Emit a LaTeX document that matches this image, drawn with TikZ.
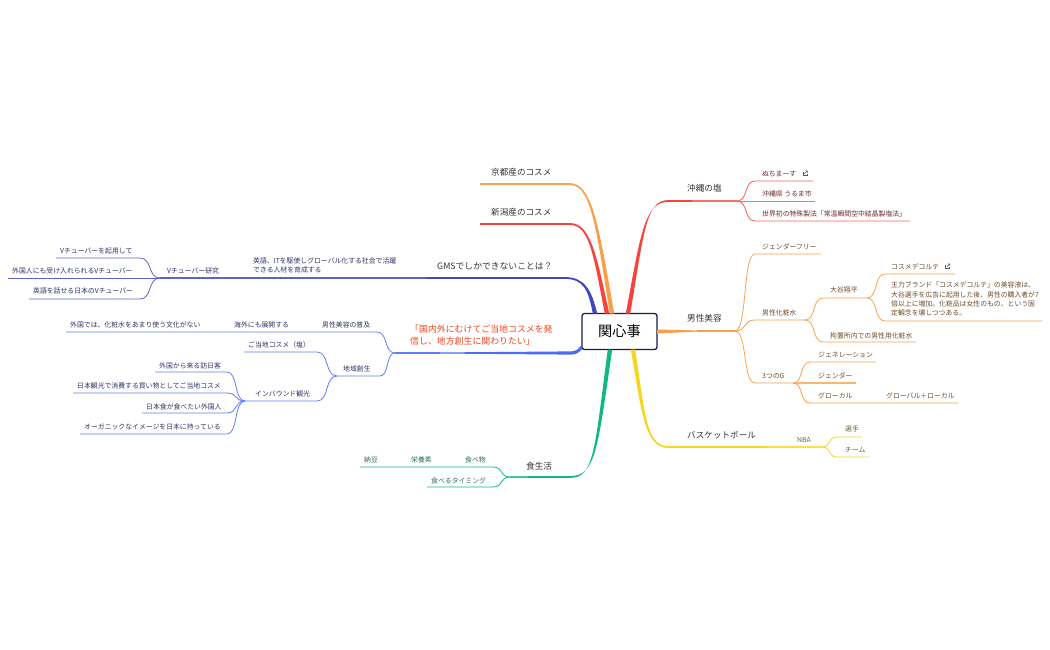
\documentclass[tikz,border=0pt]{standalone}
\usepackage{fontspec}
\setmainfont{Noto Sans CJK JP}
\usetikzlibrary{calc}

\definecolor{orangeM}{HTML}{F9A04A}
\definecolor{redM}{HTML}{F8433C}
\definecolor{navyM}{HTML}{3F49BE}
\definecolor{blueM}{HTML}{4A6CF7}
\definecolor{greenM}{HTML}{10B981}
\definecolor{yellowM}{HTML}{F7D520}
\definecolor{paleRed}{HTML}{FB6F69}
\definecolor{paleOrange}{HTML}{FBB56E}
\definecolor{paleYellow}{HTML}{FADF45}
\definecolor{paleGreen}{HTML}{3CC795}
\definecolor{thinNavy}{HTML}{5C64C9}
\definecolor{thinBlue}{HTML}{5F7DF8}
\definecolor{thinRed}{HTML}{F95F59}
\definecolor{inkRoot}{HTML}{1A1A4E}
\definecolor{inkTopic}{HTML}{333333}
\definecolor{inkAim}{HTML}{F2451C}
\definecolor{inkIcon}{HTML}{555566}
\definecolor{inkRed}{HTML}{6E2B2B}
\definecolor{inkOrange}{HTML}{6E4A28}
\definecolor{inkYellow}{HTML}{6B6230}
\definecolor{inkNavy}{HTML}{2F3266}
\definecolor{inkGreen}{HTML}{2A6F55}

\tikzset{
    x=1pt,y=-1pt,
    rootbox/.style={draw=inkRoot,line width=1.3pt,fill=white,rounded corners=2.5pt,minimum width=75pt,minimum height=36pt,inner sep=0,outer sep=0,font=\fontsize{14.2}{16}\selectfont},
    topic/.style={anchor=west,inner sep=0,yshift=-.6pt,text=inkTopic,font=\fontsize{8.6}{11}\selectfont},
    leaf/.style={anchor=west,inner sep=0,yshift=-.6pt,font=\fontsize{6.85}{9.4}\selectfont},
    lineR/.style={thinRed,line width=.8pt},
    lineO/.style={orangeM,line width=.8pt},
    lineY/.style={yellowM,line width=.8pt},
    lineN/.style={thinNavy,line width=.8pt},
    lineB/.style={thinBlue,line width=.8pt},
    lineG/.style={greenM,line width=.8pt},
}

% tapered main branch: colour, start, control, control, corner, end
\newcommand{\trunk}[6]{
    \fill[#1] ([xshift=-2.2pt]#2) .. controls ([xshift=-1.6pt]#3) and ([shift={(-.6pt,-.9pt)}]#4) .. ([yshift=-.9pt]#5) -- ([yshift=-.8pt]#6)
        -- ([yshift=.8pt]#6) -- ([yshift=.9pt]#5) .. controls ([shift={(.6pt,.9pt)}]#4) and ([xshift=1.6pt]#3) .. ([xshift=2.2pt]#2) -- cycle;
}
% hub to bend (S curve), then along the text
\newcommand{\branch}[4]{
    \draw[#1] (#2) .. controls ($(#2)!.62!(#2-|#3)$) and ($(#3)!.62!(#3-|#2)$) .. (#3) -- (#4);
}
\newcommand{\linkicon}[1]{
    \draw[inkIcon,line width=.45pt] ($(#1)+(-2.2,-1.2)$) -- ($(#1)+(-2.2,2.4)$) -- ($(#1)+(2,2.4)$) -- ($(#1)+(2,.6)$);
    \draw[inkIcon,line width=.45pt] ($(#1)+(-.6,.8)$) -- ($(#1)+(2.4,-2.2)$) ($(#1)+(.4,-2.2)$) -- ($(#1)+(2.4,-2.2)$) -- ($(#1)+(2.4,-.2)$);
}

\begin{document}
\begin{tikzpicture}
    \useasboundingbox (0,0) rectangle (1050,650);

    \node[rootbox] (root) at (619.5,331.5) {関心事};

    % starts on the root box
    \coordinate (kyotoS) at ([xshift=-7.5pt]root.north);
    \coordinate (niigataS) at ([xshift=-12.5pt]root.north);
    \coordinate (gmsS) at ([xshift=-24.5pt]root.north);
    \coordinate (saltS) at ([xshift=8.5pt]root.north);
    \coordinate (basketS) at ([xshift=13.5pt]root.south);
    \coordinate (foodS) at ([xshift=-9.5pt]root.south);
    \coordinate (aimS) at ([yshift=-15.5pt]root.west);
    \coordinate (aimC) at (570,353);
    \coordinate (aimE) at (440,353);
    \coordinate (menE) at (697,331);

    % control, control, corner, end of the main branches
    \foreach \n/\ax/\ay/\bx/\by/\cx/\cy/\ex/\ey in {kyoto/598/230/592/184/570/184/480/184,
        niigata/595/255/590/224/570/224/480/224,
        gms/590/290/584/278/565/278/427/278,
        salt/642/235/645/201/668/201/692/201,
        basket/643/410/645/447/668/447/767/447,
        food/596/450/595/477/570/477/528/477}{
        \coordinate (\n A) at (\ax,\ay);
        \coordinate (\n B) at (\bx,\by);
        \coordinate (\n C) at (\cx,\cy);
        \coordinate (\n E) at (\ex,\ey);
    }

    % hubs
    \foreach \n/\x/\y in {hubV/160/278,hubLocal/337/376,hubInb/245/401,hubAim/395/353,
        hubSalt/737/201,hubMen/735/331,hubCos/805/320,hubOt/867/298,hubG/793/383,hubNba/822/447,hubFood/510/477}{
        \coordinate (\n) at (\x,\y);
    }

    % leaf lines: name/bend x/end x/y
    \foreach \n/\bx/\ex/\y in {va/140/56/258,vb/140/8/278,vc/140/29/299,
        men/377/66/332,local/380/380/376,toch/317/244/352,inb/317/317/401,
        ia/227/155/372,ib/227/73/393,ic/227/142/413,id/227/80/434,
        fa/493/360/467,fb/493/427/487,
        sa/755/813/181,sb/755/815/201,sc/755/910/221,
        ga/755/821/254,gb/755/755/320,gc/755/755/383,
        ca/823/823/298,cb/823/916/342,
        oa/885/955/274,ob/885/1042/321,
        ta/810/876/362,tb/810/856/383,tc/810/958/403,
        na/837/862/437,nb/837/869/457}{
        \coordinate (\n-b) at (\bx,\y);
        \coordinate (\n-e) at (\ex,\y);
    }

    % main branches
    \trunk{orangeM}{kyotoS}{kyotoA}{kyotoB}{kyotoC}{kyotoE}
    \trunk{redM}{niigataS}{niigataA}{niigataB}{niigataC}{niigataE}
    \trunk{navyM}{gmsS}{gmsA}{gmsB}{gmsC}{gmsE}
    \trunk{redM}{saltS}{saltA}{saltB}{saltC}{saltE}
    \trunk{yellowM}{basketS}{basketA}{basketB}{basketC}{basketE}
    \trunk{greenM}{foodS}{foodA}{foodB}{foodC}{foodE}
    \fill[blueM] ([shift={(0,-3)}]aimS) .. controls ([shift={(-4,3)}]aimS) and ([shift={(6,-1.6)}]aimC) .. ([shift={(0,-1.6)}]aimC) -- ([shift={(0,-.55)}]aimE)
        -- ([shift={(0,.55)}]aimE) -- ([shift={(0,1.6)}]aimC) .. controls ([shift={(8,1.6)}]aimC) and ([shift={(-3,5)}]aimS) .. ([shift={(0,2)}]aimS) -- cycle;
    \fill[orangeM] ([yshift=-2pt]root.east) -- ([yshift=-.6pt]menE) -- ([yshift=.6pt]menE) -- ([yshift=2pt]root.east) -- cycle;

    % thin ends of the main branches
    \draw[thinNavy,line width=1.1pt] (gmsE) -- (hubV);
    \draw[paleRed,line width=1.2pt] (saltE) -- (hubSalt);
    \draw[paleYellow,line width=1.2pt] (basketE) -- (hubNba);
    \draw[paleGreen,line width=1.2pt] (foodE) -- (hubFood);
    \draw[thinBlue,line width=1.1pt] (aimE) -- (hubAim);
    \draw[orangeM,line width=1.1pt] (menE) -- (hubMen);

    % left side
    \branch{lineN}{hubV}{va-b}{va-e}
    \draw[lineN] (hubV) -- (vb-e);
    \branch{lineN}{hubV}{vc-b}{vc-e}
    \branch{lineB}{hubAim}{men-b}{men-e}
    \branch{lineB}{hubAim}{local-b}{hubLocal}
    \branch{lineB}{hubLocal}{toch-b}{toch-e}
    \branch{lineB}{hubLocal}{inb-b}{hubInb}
    \branch{lineB}{hubInb}{ia-b}{ia-e}
    \branch{lineB}{hubInb}{ib-b}{ib-e}
    \branch{lineB}{hubInb}{ic-b}{ic-e}
    \branch{lineB}{hubInb}{id-b}{id-e}
    \branch{lineG}{hubFood}{fa-b}{fa-e}
    \branch{lineG}{hubFood}{fb-b}{fb-e}

    % right side
    \branch{lineR}{hubSalt}{sa-b}{sa-e}
    \draw[paleRed,line width=.9pt] (hubSalt) -- (sb-e);
    \branch{lineR}{hubSalt}{sc-b}{sc-e}
    \branch{lineO}{hubMen}{ga-b}{ga-e}
    \branch{lineO}{hubMen}{gb-b}{hubCos}
    \branch{lineO}{hubMen}{gc-b}{hubG}
    \branch{lineO}{hubCos}{ca-b}{hubOt}
    \branch{lineO}{hubCos}{cb-b}{cb-e}
    \branch{lineO}{hubOt}{oa-b}{oa-e}
    \branch{lineO}{hubOt}{ob-b}{ob-e}
    \branch{lineO}{hubG}{ta-b}{ta-e}
    \draw[paleOrange,line width=1.1pt] (hubG) -- (tb-e);
    \branch{lineO}{hubG}{tc-b}{tc-e}
    \branch{lineY}{hubNba}{na-b}{na-e}
    \branch{lineY}{hubNba}{nb-b}{nb-e}

    % texts, first level
    \node[topic] (kyoto) at (491,172) {京都産のコスメ};
    \node[topic] (niigata) at (491,212) {新潟産のコスメ};
    \node[topic,font=\fontsize{8.8}{11}\selectfont] (gms) at (437,266) {GMSでしかできないことは？};
    \node[topic,text=inkAim,align=left,anchor=north west,font=\fontsize{8.9}{12}\selectfont] (aim) at (410,324.5) {「国内外にむけてご当地コスメを発\\信し、地方創生に関わりたい」};
    \node[topic] (food) at (526,466) {食生活};
    \node[topic] (salt) at (687,188) {沖縄の塩};
    \node[topic] (menbeauty) at (687,318) {男性美容};
    \node[topic] (basket) at (687,435) {バスケットボール};

    % texts, navy
    \begin{scope}[every node/.style={leaf,text=inkNavy}]
        \node[align=left,anchor=north west] (english) at (253,257) {英語、ITを駆使しグローバル化する社会で活躍\\できる人材を育成する};
        \node (vres) at (167,270) {Vチューバー研究};
        \node (v1) at (60,250) {Vチューバーを起用して};
        \node (v2) at (12,270) {外国人にも受け入れられるVチューバー};
        \node (v3) at (33,290) {英語を話せる日本のVチューバー};
        \node (menb) at (322,324) {男性美容の普及};
        \node (kaigai) at (234,324) {海外にも展開する};
        \node (gaikoku) at (70,324) {外国では、化粧水をあまり使う文化がない};
        \node (chiiki) at (343,368) {地域創生};
        \node (gotochi) at (248,344) {ご当地コスメ（塩）};
        \node (inbound) at (255,393) {インバウンド観光};
        \node (i1) at (159,365) {外国から来る訪日客};
        \node (i2) at (77,385) {日本観光で消費する買い物としてご当地コスメ};
        \node (i3) at (146,406) {日本食が食べたい外国人};
        \node (i4) at (84,426) {オーガニックなイメージを日本に持っている};
    \end{scope}

    % texts, green
    \begin{scope}[every node/.style={leaf,text=inkGreen}]
        \node (natto) at (364,459) {納豆};
        \node (eiyo) at (411,459) {栄養素};
        \node (tabemono) at (465,459) {食べ物};
        \node (timing) at (431,480) {食べるタイミング};
    \end{scope}

    % texts, red
    \begin{scope}[every node/.style={leaf,text=inkRed}]
        \node (nuchi) at (762,173) {ぬちまーす};
        \node (uruma) at (762,193) {沖縄県 うるま市};
        \node (sekai) at (762,213) {世界初の特殊製法「常温瞬間空中結晶製塩法」};
    \end{scope}

    % texts, orange
    \begin{scope}[every node/.style={leaf,text=inkOrange}]
        \node (genderfree) at (762,246) {ジェンダーフリー};
        \node (cosme) at (762,312) {男性化粧水};
        \node (three) at (762,375) {3つのG};
        \node (otani) at (830,289) {大谷翔平};
        \node (kochi) at (830,335) {拘置所内での男性用化粧水};
        \node (decorte) at (891,266) {コスメデコルテ};
        \node[align=left,anchor=north west] (brand) at (891,281) {主力ブランド「コスメデコルテ」の美容液は、\\大谷選手を広告に起用した後、男性の購入者が7\\倍以上に増加。化粧品は女性のもの、という固\\定観念を壊しつつある。};
        \node (gene) at (818,354) {ジェネレーション};
        \node (gender) at (818,375) {ジェンダー};
        \node (glocal) at (818,395) {グローカル};
        \node (globallocal) at (886,395) {グローバル＋ローカル};
    \end{scope}

    % texts, yellow
    \begin{scope}[every node/.style={leaf,text=inkYellow}]
        \node (nba) at (797,439) {NBA};
        \node (senshu) at (845,428) {選手};
        \node (team) at (845,449) {チーム};
    \end{scope}

    \coordinate (iconA) at (805,173);
    \coordinate (iconB) at (947.5,266);
    \linkicon{iconA}
    \linkicon{iconB}
\end{tikzpicture}
\end{document}
